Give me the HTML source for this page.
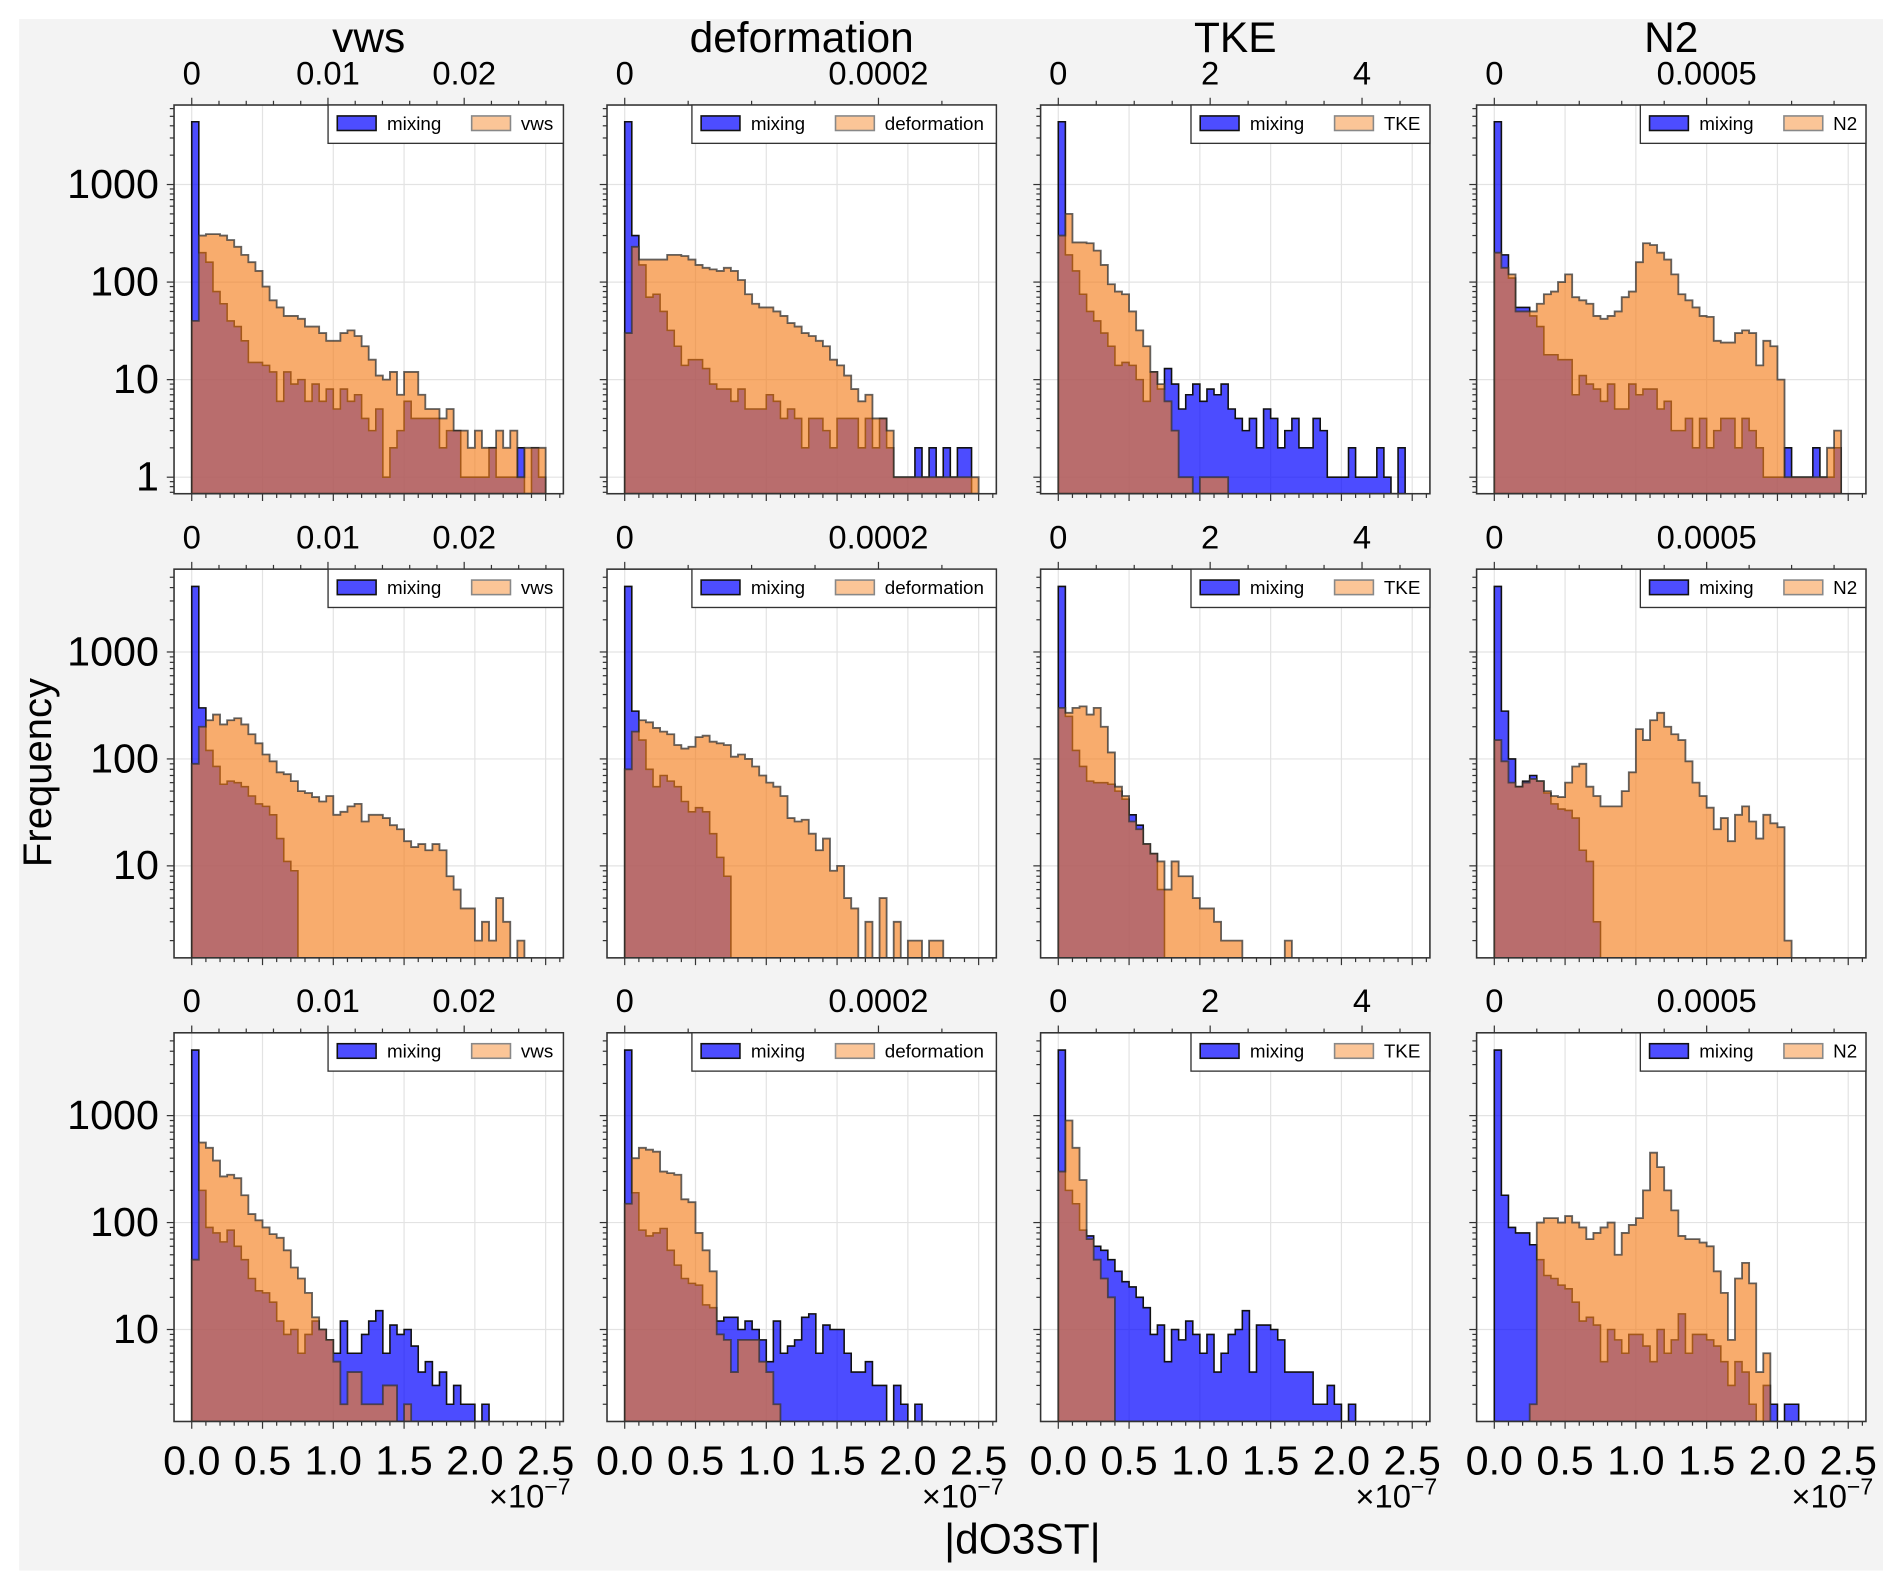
<!DOCTYPE html>
<html>
<head>
<meta charset="utf-8">
<style>
html,body{margin:0;padding:0;background:#fff;}
svg{display:block;font-family:"Liberation Sans",Arial,sans-serif;}
</style>
</head>
<body>
<svg id="fig" xmlns="http://www.w3.org/2000/svg" width="1892" height="1580" viewBox="0 0 1560 1302.8" preserveAspectRatio="none">
<rect x="15.8" y="15.7" width="1536.8" height="1279.3" fill="#f3f3f3"/>
<g id="panels"></g>
<text x="0" y="0" transform="translate(42,637) rotate(-90)" text-anchor="middle" font-size="33" fill="#000">Frequency</text>
<text x="843" y="1281" text-anchor="middle" font-size="35" fill="#000">|dO3ST|</text>
</svg>
<script>
// ---- data: histogram counts, bin width 0.05 (x1e-7), bins starting at 0 ----
const binWidth = 0.05;
const variables = ["vws","deformation","TKE","N2"];
const xMajor = [0,0.5,1,1.5,2,2.5];
const xTickLabels = ["0.0","0.5","1.0","1.5","2.0","2.5"];
const yDecadesRow1 = [1,10,100,1000];
const yLabelsRow1 = ["1","10","100","1000"];
const yDecadesRow23 = [10,100,1000];
const yLabelsRow23 = ["10","100","1000"];
const topMajorVws = [0,0.01,0.02];
const topLabelsVws = ["0","0.01","0.02"];
const topMajorDef = [0,0.0002];
const topLabelsDef = ["0","0.0002"];
const topMajorTke = [0,2,4];
const topLabelsTke = ["0","2","4"];
const topMajorN2 = [0,0.0005];
const topLabelsN2 = ["0","0.0005"];

const mixR1Vws = [4400,200,160,80,60,40,35,25,15,15,14,12,6,12,9,10,6,9,6,8,5,8,6,7,4,3,5,1,2,3,6,4,4,4,4,2,3,3,1,1,1,1,2,1,1,1,2,0,2,1];
const varR1Vws = [40,300,310,310,300,270,230,190,160,130,90,65,55,45,45,42,35,35,30,25,25,30,32,28,22,16,11,10,12,7,12,12,7,5,5,4,5,3,3,2,3,2,2,3,2,3,1,2,2,2];
const mixR1Def = [4400,300,150,70,75,50,32,22,14,16,16,13,9,8,8,6,8,5,5,5,7,6,4,5,4,2,4,4,3,2,4,4,4,2,4,2,4,2,1,1,1,2,1,2,1,2,1,2,2,0];
const varR1Def = [30,230,170,170,170,170,190,190,185,170,150,140,135,130,140,130,105,75,60,55,55,50,45,38,35,30,28,25,22,16,14,11,8,6,7,4,4,3,1,1,1,1,1,1,1,1,1,1,1,1];
const mixR1Tke = [4400,190,130,75,50,40,30,22,14,15,14,10,6,12,8,13,9,5,7,9,6,8,7,9,5,4,3,4,2,5,4,2,3,4,2,2,4,3,1,1,1,2,1,1,1,2,1,0,2,0];
const varR1Tke = [300,500,255,255,250,210,150,95,80,75,50,32,22,12,9,6,3,1,1,0,1,1,1,1];
const mixR1N2 = [4400,190,110,55,55,45,35,18,18,16,16,7,11,9,8,6,9,5,5,9,7,8,8,5,6,3,3,4,2,4,2,3,4,4,2,4,3,2,1,1,1,2,1,1,1,2,1,1,2,0];
const varR1N2 = [200,140,120,50,50,50,60,75,80,100,120,70,65,60,45,42,45,50,70,80,160,250,240,200,170,120,75,65,55,45,44,25,24,24,30,32,30,14,25,22,10,1,1,1,1,1,1,2,3,0];

const mixR2Vws = [4100,300,120,85,58,62,60,55,45,38,36,30,18,11,9];
const varR2Vws = [90,200,230,260,210,230,240,210,170,140,110,95,75,72,62,50,48,44,40,45,30,32,36,38,26,30,30,28,24,22,17,15,16,14,16,14,8,6,4,4,2,3,2,5,3,0,2];
const mixR2Def = [4100,280,150,80,55,70,62,55,40,32,35,32,20,12,8];
const varR2Def = [80,180,230,220,195,180,170,135,125,130,160,165,145,140,135,105,110,100,85,70,60,55,45,28,26,27,20,14,18,9,10,5,4,1,3,1,5,1,3,1,2,2,1,2,2];
const mixR2Tke = [4100,250,120,85,62,60,60,58,50,42,30,24,16,13,6];
const varR2Tke = [300,270,300,310,260,300,200,115,55,45,26,22,16,13,11,6,11,8,8,5,4,4,3,2,2,2,0,0,0,0,0,0,2];
const mixR2N2 = [4100,280,100,55,62,70,62,48,38,34,33,28,14,11,3];
const varR2N2 = [150,95,60,55,60,65,62,50,45,44,60,85,90,55,45,36,36,36,50,75,190,150,230,270,200,170,150,95,60,45,35,22,28,17,30,36,26,18,30,25,23,2];

const mixR3Vws = [4100,200,90,80,66,85,60,45,30,23,22,18,12,9,10,6,9,12,10,8,6,12,6,6,9,12,15,6,11,9,10,7,4,5,3,4,2,3,2,2,1,2];
const varR3Vws = [45,560,500,380,270,280,260,180,120,105,90,78,72,55,38,30,22,13,10,8,5,2,4,4,2,2,2,3,3,1,2,1];
const mixR3Def = [4100,190,85,75,80,88,55,40,30,27,26,17,16,12,13,13,10,12,10,8,5,12,6,7,8,13,14,6,11,10,10,6,4,4,5,3,3,1,3,2,0,2,1];
const varR3Def = [150,400,500,480,460,300,290,280,165,155,80,55,35,9,8,4,8,8,8,5,4,2];
const mixR3Tke = [4100,200,150,85,75,60,55,45,35,28,25,20,16,9,11,5,10,8,12,9,6,9,4,6,9,10,15,4,11,11,10,8,4,4,4,4,2,2,3,2,0,2];
const varR3Tke = [300,900,500,250,70,45,30,20];
const mixR3N2 = [4100,180,90,80,80,62,45,32,30,26,24,18,12,13,11,5,10,8,6,9,9,7,5,10,6,8,14,6,9,9,8,7,5,3,5,4,2,1,3,2,0,2,2];
const varR3N2 = [0,0,0,0,0,2,100,110,110,100,115,100,90,70,80,90,100,50,80,95,110,200,450,330,200,130,75,70,70,65,60,35,22,8,30,42,27,4,6];

const mixingData = [[mixR1Vws,mixR1Def,mixR1Tke,mixR1N2],[mixR2Vws,mixR2Def,mixR2Tke,mixR2N2],[mixR3Vws,mixR3Def,mixR3Tke,mixR3N2]];
const variableData = [[varR1Vws,varR1Def,varR1Tke,varR1N2],[varR2Vws,varR2Def,varR2Tke,varR2N2],[varR3Vws,varR3Def,varR3Tke,varR3N2]];
const topMajors = [topMajorVws,topMajorDef,topMajorTke,topMajorN2];
const topLabels = [topLabelsVws,topLabelsDef,topLabelsTke,topLabelsN2];

// ---- layout ----
const NS = "http://www.w3.org/2000/svg";
const colLeft = [143.5,500.5,858,1217.5];
const panelW = 321, panelH = 320.5;
const rowTop = [86.6,469.3,851.6];
const xDomain = [-0.125,2.625];
const yDomains = [[0.677,6530],[1.38,5950],[1.38,5950]];
const topDomains = [[-0.0013,0.02728],[-0.00001396,0.0002929],[-0.233,4.894],[-0.0000417,0.000875]];
const topMinorSteps = [0.002,0.00005,0.5,0.0001];
const root = document.getElementById('panels');

function mk(tag, attrs, parent){
  const e = document.createElementNS(NS, tag);
  for (const k in attrs) e.setAttribute(k, attrs[k]);
  (parent||root).appendChild(e);
  return e;
}

function histPath(counts, xs, ys, bottom, ymin){
  let first = counts.findIndex(c => c > 0);
  let last = -1;
  for (let i = counts.length-1; i >= 0; i--) if (counts[i] > 0){ last = i; break; }
  if (first < 0) return "";
  let d = `M${xs(first*binWidth)},${bottom}`;
  for (let i = first; i <= last; i++){
    const c = counts[i];
    const yy = c > ymin ? ys(c) : bottom;
    d += ` L${xs(i*binWidth).toFixed(2)},${yy.toFixed(2)} L${xs((i+1)*binWidth).toFixed(2)},${yy.toFixed(2)}`;
  }
  d += ` L${xs((last+1)*binWidth).toFixed(2)},${bottom} Z`;
  return d;
}

for (let r = 0; r < 3; r++){
  for (let c = 0; c < 4; c++){
    const L = colLeft[c], T = rowTop[r], R = L+panelW, B = T+panelH;
    const [ymin,ymax] = yDomains[r];
    const xs = v => L + (v - xDomain[0])/(xDomain[1]-xDomain[0])*panelW;
    const ys = v => T + panelH*(Math.log10(ymax)-Math.log10(v))/(Math.log10(ymax)-Math.log10(ymin));
    const td = topDomains[c];
    const ts = v => L + (v - td[0])/(td[1]-td[0])*panelW;

    const g = mk('g', {});
    
    

    const bg = mk('rect', {x:L, y:T, width:panelW, height:panelH, fill:'#fff'}, g);
    
    

    const clipId = `clip${r}${c}`;
    const cp = mk('clipPath', {id:clipId}, g);
    mk('rect', {x:L, y:T, width:panelW, height:panelH}, cp);

    xMajor.forEach(v => {
      const gl = mk('line', {x1:xs(v), x2:xs(v), y1:T, y2:B, stroke:'#e3e3e3', 'stroke-width':1}, g);
      
      
    });
    const decs = r === 0 ? yDecadesRow1 : yDecadesRow23;
    const dlabels = r === 0 ? yLabelsRow1 : yLabelsRow23;
    decs.forEach(v => {
      const gl = mk('line', {x1:L, x2:R, y1:ys(v), y2:ys(v), stroke:'#e3e3e3', 'stroke-width':1}, g);
      
      
    });

    const hg = mk('g', {'clip-path':`url(#${clipId})`}, g);
    const pm = mk('path', {d:histPath(mixingData[r][c], xs, ys, B, ymin), fill:'#0000ff', 'fill-opacity':0.7, stroke:'#111', 'stroke-width':1.3, 'stroke-linejoin':'miter'}, hg);
    
    
    const pv = mk('path', {d:histPath(variableData[r][c], xs, ys, B, ymin), fill:'rgb(244,128,30)', 'fill-opacity':0.65, stroke:'#333', 'stroke-opacity':0.75, 'stroke-width':1.5}, hg);
    
    

    const fr = mk('rect', {x:L, y:T, width:panelW, height:panelH, fill:'none', stroke:'#333', 'stroke-width':1.3}, g);
    
    

    for (let k = 0; k <= 26; k++){
      const v = k*0.1;
      if (v > xDomain[1]) break;
      const major = k % 5 === 0;
      const tk = mk('line', {x1:xs(v), x2:xs(v), y1:B, y2:B+(major?6:3.5), stroke:'#333', 'stroke-width':1}, g);
      
      
    }
    if (r === 2){
      xMajor.forEach((v,i) => {
        const t = mk('text', {x:xs(v), y:B+43.6, 'text-anchor':'middle', 'font-size':34, fill:'#000'}, g);
        t.textContent = xTickLabels[i];
        
        
      });
      const ex = mk('text', {x:R+6, y:B+71, 'text-anchor':'end', 'font-size':27, fill:'#000'}, g);
      
      
      ex.textContent = '×10';
      const sup = mk('tspan', {dy:-11, 'font-size':19}, ex);
      sup.textContent = '−7';
    }

    const step = topMinorSteps[c];
    const perMajor = Math.round((topMajors[c][1]-topMajors[c][0])/step);
    for (let k = 0; ; k++){
      const v = k*step;
      if (v > td[1]) break;
      const major = k % perMajor === 0;
      const tk = mk('line', {x1:ts(v), x2:ts(v), y1:T, y2:T-(major?6:3.5), stroke:'#333', 'stroke-width':1}, g);
      
      
    }
    topMajors[c].forEach((v,i) => {
      const t = mk('text', {x:ts(v), y:T-17, 'text-anchor':'middle', 'font-size':27, fill:'#000'}, g);
      t.textContent = topLabels[c][i];
      
      
    });
    if (r === 0){
      const tt = mk('text', {x:L+panelW/2, y:43, 'text-anchor':'middle', 'font-size':35, fill:'#000'}, g);
      tt.textContent = variables[c];
      
      
    }

    const lo = Math.floor(Math.log10(ymin)), hi = Math.ceil(Math.log10(ymax));
    for (let e = lo; e <= hi; e++){
      for (let m = 1; m <= 9; m++){
        const v = m*Math.pow(10,e);
        if (v < ymin || v > ymax) continue;
        const tk = mk('line', {x1:L, x2:L-(m===1?6:3.5), y1:ys(v), y2:ys(v), stroke:'#333', 'stroke-width':1}, g);
        
        
      }
    }
    if (c === 0){
      decs.forEach((v,i) => {
        const t = mk('text', {x:131, y:ys(v)+11, 'text-anchor':'end', 'font-size':34, fill:'#000'}, g);
        t.textContent = dlabels[i];
        
        
      });
    }

    const legW = [194,251,197,186][c];
    const lx = R - legW;
    const lg = mk('g', {}, g);
    
    
    mk('rect', {x:lx, y:T, width:legW, height:31.6, fill:'#fff', stroke:'#333', 'stroke-width':1.1}, lg);
    const p1 = mk('rect', {x:lx+7.6, y:T+9, width:32, height:12, fill:'#4d4dff', stroke:'#111', 'stroke-width':1.3}, lg);
    
    
    const t1 = mk('text', {x:lx+48.6, y:T+20.5, 'font-size':15.5, fill:'#000'}, lg);
    t1.textContent = 'mixing';
    
    
    const p2 = mk('rect', {x:lx+118.4, y:T+9, width:32, height:12, fill:'#fbc597', stroke:'#888', 'stroke-width':1.3}, lg);
    
    
    const t2 = mk('text', {x:lx+159, y:T+20.5, 'font-size':15.5, fill:'#000'}, lg);
    t2.textContent = variables[c];
    
    
  }
}
</script>
</body>
</html>
